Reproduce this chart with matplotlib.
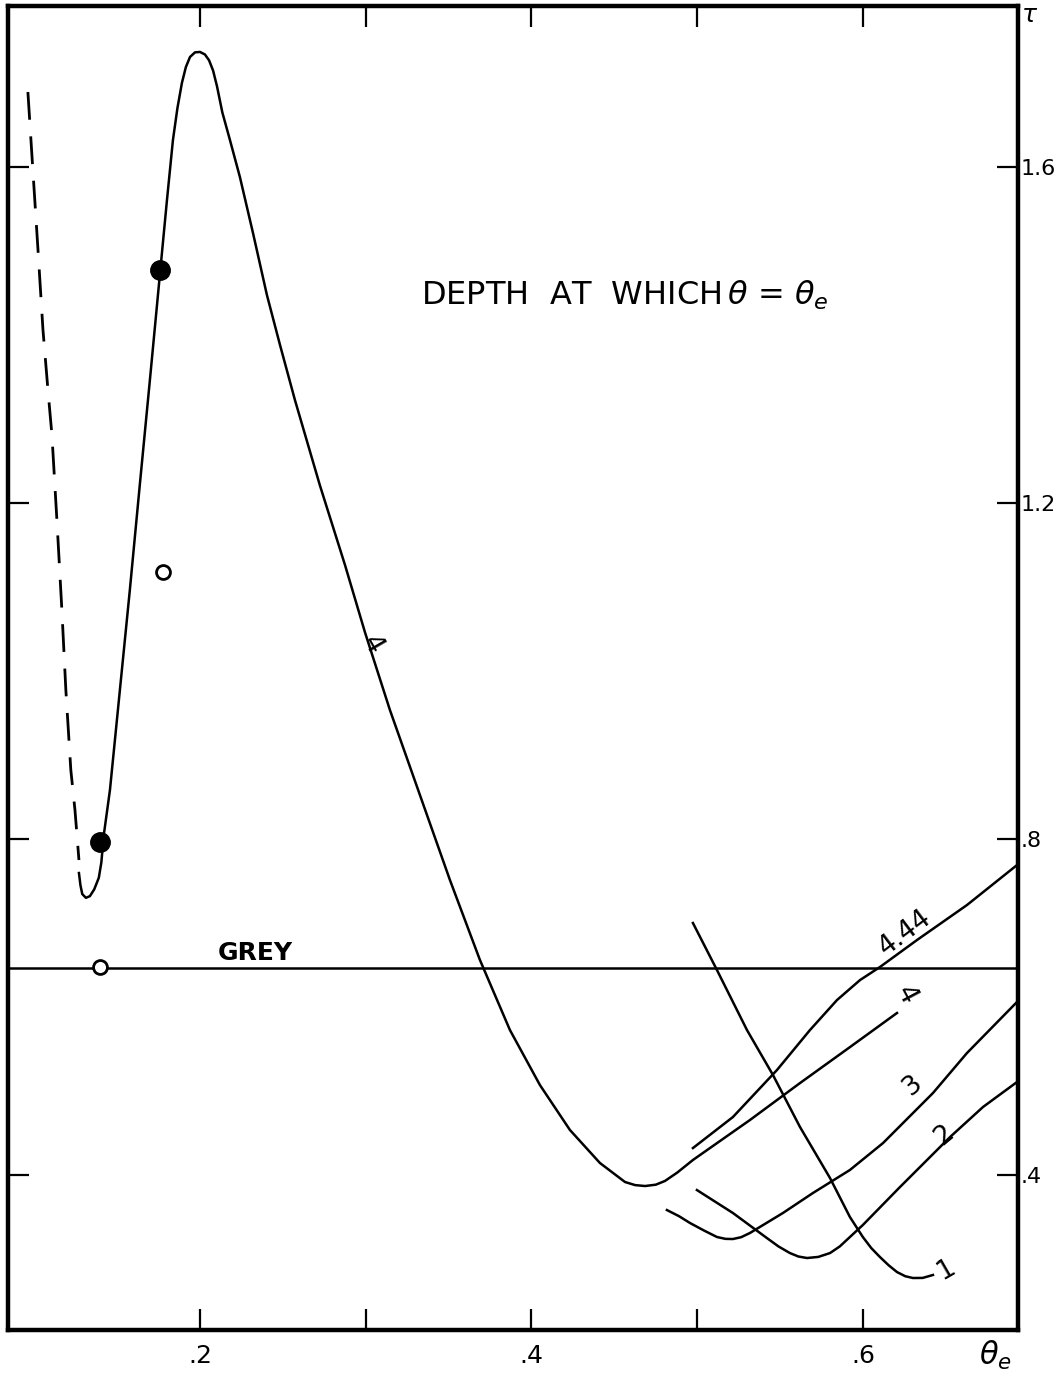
import matplotlib
matplotlib.use("Agg")
import matplotlib.pyplot as plt

# curve 4, the grey-free model run (theta_e, tau)
curve4_x = [0.1270, 0.1279, 0.1290, 0.1312, 0.1336, 0.1362, 0.1390, 0.1405,
            0.1420, 0.1457, 0.1517, 0.1577, 0.1637, 0.1698, 0.1758,
            0.1801, 0.1837, 0.1864, 0.1891, 0.1915, 0.1940, 0.1970, 0.2000,
            0.2030, 0.2055, 0.2079, 0.2103, 0.2135, 0.2181, 0.2241, 0.2320,
            0.2404, 0.2483, 0.2573, 0.2723, 0.2875, 0.2995, 0.3146, 0.3327,
            0.3508, 0.3689, 0.3870, 0.4051, 0.4232, 0.4413, 0.4564, 0.4625,
            0.4685, 0.4750, 0.4805, 0.4880, 0.4974, 0.5318, 0.5620, 0.5922,
            0.6205]
curve4_y = [0.7595, 0.7450, 0.7345, 0.7300, 0.7320, 0.7400, 0.7540, 0.7720,
            0.8050, 0.8583, 0.9774, 1.0964, 1.2214, 1.3464, 1.4714,
            1.5607, 1.6321, 1.6700, 1.7000, 1.7190, 1.7310, 1.7365, 1.7370,
            1.7340, 1.7270, 1.7150, 1.6960, 1.6650, 1.6321, 1.5881, 1.5214,
            1.4476, 1.3881, 1.3226, 1.2214, 1.1262, 1.0464, 0.9536, 0.8524,
            0.7512, 0.6560, 0.5726, 0.5071, 0.4536, 0.4143, 0.3917, 0.3880,
            0.3869, 0.3885, 0.3929, 0.4030, 0.4179, 0.4655, 0.5095, 0.5524,
            0.5929]

# dashed branch running into the low-theta end of curve 4
dashed_x = [0.0962, 0.0992, 0.1023, 0.1053, 0.1083, 0.1107, 0.1137, 0.1167,
            0.1191, 0.1221, 0.1246, 0.1270]
dashed_y = [1.6893, 1.5964, 1.5012, 1.4060, 1.3345, 1.2810, 1.1798, 1.0726,
            0.9774, 0.8821, 0.8345, 0.7750]

curve444_x = [0.4974, 0.5215, 0.5481, 0.5680, 0.5843, 0.5982, 0.6102, 0.6326,
              0.6627, 0.6929]
curve444_y = [0.4321, 0.4690, 0.5250, 0.5726, 0.6083, 0.6321, 0.6476, 0.6798,
              0.7214, 0.7690]

curve3_x = [0.4817, 0.4890, 0.4956, 0.5040, 0.5119, 0.5170, 0.5215, 0.5265,
            0.5318, 0.5517, 0.5698, 0.5921, 0.6121, 0.6422, 0.6627, 0.6929]
curve3_y = [0.3583, 0.3510, 0.3429, 0.3340, 0.3262, 0.3240, 0.3238, 0.3260,
            0.3310, 0.3548, 0.3786, 0.4060, 0.4381, 0.4976, 0.5452, 0.6060]

curve2_x = [0.4998, 0.5215, 0.5420, 0.5490, 0.5559, 0.5610, 0.5662, 0.5730,
            0.5801, 0.5860, 0.5921, 0.5999, 0.6223, 0.6525, 0.6724, 0.6929]
curve2_y = [0.3821, 0.3548, 0.3250, 0.3150, 0.3071, 0.3030, 0.3012, 0.3025,
            0.3071, 0.3150, 0.3262, 0.3405, 0.3857, 0.4452, 0.4810, 0.5107]

curve1_x = [0.4974, 0.5119, 0.5300, 0.5457, 0.5620, 0.5801, 0.5921, 0.5999,
            0.6050, 0.6102, 0.6155, 0.6205, 0.6255, 0.6301, 0.6360, 0.6422]
curve1_y = [0.7000, 0.6440, 0.5726, 0.5190, 0.4571, 0.3964, 0.3500, 0.3262,
            0.3130, 0.3024, 0.2925, 0.2845, 0.2795, 0.2774, 0.2775, 0.2810]

grey_tau = 0.646

filled_x = [0.1758, 0.1396]
filled_y = [1.4774, 0.7964]
open_x = [0.1777, 0.1396]
open_y = [1.1179, 0.6476]

x_ticks = [0.2, 0.3, 0.4, 0.5, 0.6]
x_tick_labels = [".2", "", ".4", "", ".6"]
y_ticks = [0.4, 0.8, 1.2, 1.6]
y_tick_labels = [".4", ".8", "1.2", "1.6"]

# curve labels: text, x, y, rotation
curve_labels = [
    ("4", 0.3040, 1.031, -60),
    ("4.44", 0.6250, 0.6880, 37),
    ("4", 0.6260, 0.6143, -62),
    ("3", 0.6300, 0.5071, 40),
    ("2", 0.6490, 0.4476, 40),
    ("1", 0.6500, 0.2869, 30),
]


def main():
    fig = plt.figure(figsize=(10.55, 13.86), dpi=100)
    ax = fig.add_axes([8 / 1055, 1 - 1330 / 1386, 1010 / 1055, 1324 / 1386])

    lw = 1.8
    ax.plot(curve4_x, curve4_y, color="black", lw=lw)
    ax.plot(dashed_x, dashed_y, color="black", lw=2.0, linestyle=(0, (10, 6)))
    ax.plot(curve444_x, curve444_y, color="black", lw=lw)
    ax.plot(curve3_x, curve3_y, color="black", lw=lw)
    ax.plot(curve2_x, curve2_y, color="black", lw=lw)
    ax.plot(curve1_x, curve1_y, color="black", lw=lw)
    ax.axhline(grey_tau, color="black", lw=lw)

    ax.plot(filled_x, filled_y, "o", color="black", ms=14)
    ax.plot(open_x, open_y, "o", mfc="white", mec="black", ms=10, mew=2)

    for text, x, y, rot in curve_labels:
        ax.text(x, y, text, fontsize=19, rotation=rot, ha="center", va="center")

    ax.text(0.2332, grey_tau + 0.004, "GREY", fontsize=18, fontweight="bold",
            ha="center", va="bottom")
    ax.text(0.4564, 1.4476, r"DEPTH  AT  WHICH$\,\theta$ = $\theta_e$",
            fontsize=23, ha="center", va="center")

    ax.set_xlim(0.0842, 0.6935)
    ax.set_ylim(0.2155, 1.7917)
    ax.set_xticks(x_ticks)
    ax.set_xticklabels(x_tick_labels)
    ax.set_yticks(y_ticks)
    ax.set_yticklabels(y_tick_labels)
    ax.tick_params(direction="in", length=15, width=1.6, top=True, right=True,
                   left=True, bottom=True, labelleft=False, labelright=True,
                   labelsize=18)
    ax.tick_params(axis="x", pad=10)
    ax.tick_params(axis="y", pad=2, labelsize=16)
    for spine in ax.spines.values():
        spine.set_linewidth(3.2)

    fig.text(1030 / 1055, 1 - 15 / 1386, r"$\tau$", fontsize=18,
             ha="center", va="center")
    fig.text(995 / 1055, 1 - 1355 / 1386, r"$\theta_e$", fontsize=22,
             ha="center", va="center")

    fig.savefig("out.png", dpi=100)


if __name__ == "__main__":
    main()
